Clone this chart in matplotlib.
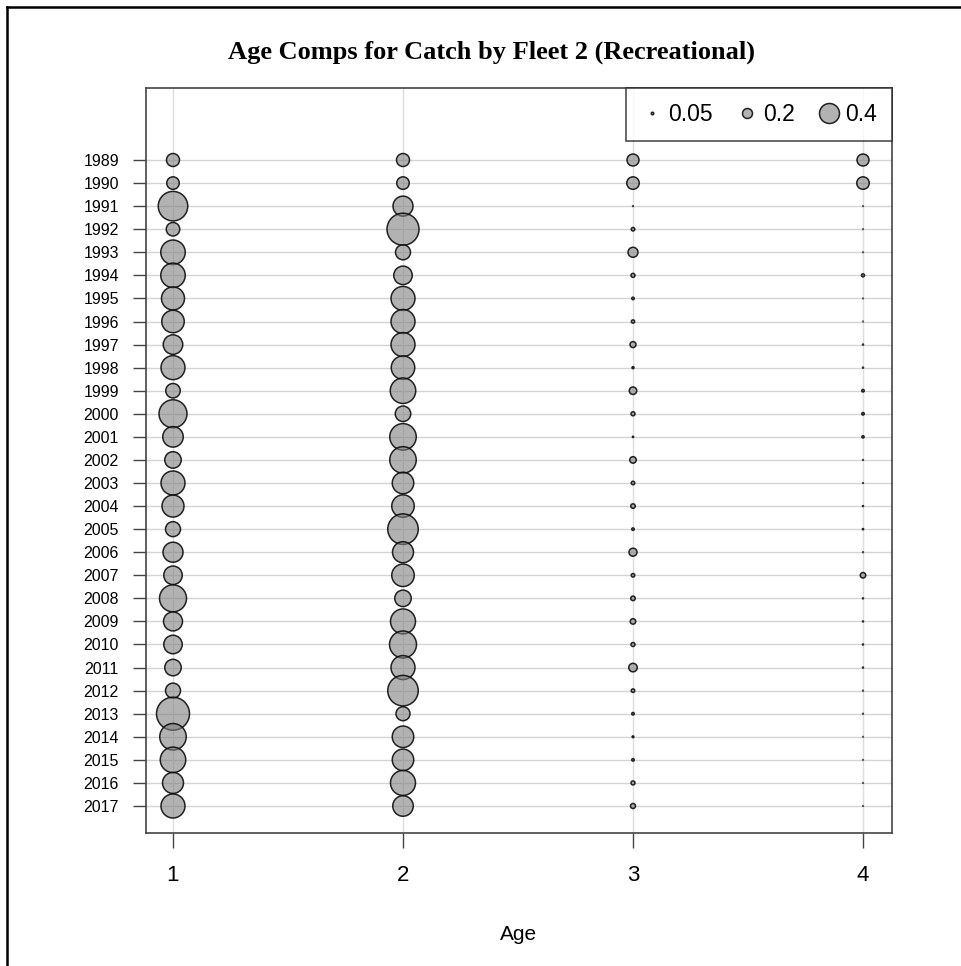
import matplotlib
matplotlib.use("Agg")
import matplotlib.pyplot as plt
from matplotlib.lines import Line2D
import numpy as np

years = list(range(1989, 2018))
ages = [1, 2, 3, 4]

age1 = [0.26, 0.25, 0.59, 0.27, 0.49, 0.49, 0.46, 0.45, 0.39, 0.48,
        0.29, 0.56, 0.41, 0.33, 0.48, 0.44, 0.30, 0.40, 0.37, 0.54,
        0.38, 0.37, 0.33, 0.30, 0.66, 0.53, 0.51, 0.42, 0.48]
age2 = [0.26, 0.25, 0.40, 0.64, 0.30, 0.37, 0.48, 0.48, 0.48, 0.47,
        0.51, 0.31, 0.53, 0.53, 0.43, 0.45, 0.61, 0.42, 0.45, 0.33,
        0.50, 0.54, 0.48, 0.61, 0.28, 0.43, 0.43, 0.50, 0.41]
age3 = [0.24, 0.25, 0.015, 0.07, 0.20, 0.08, 0.05, 0.065, 0.12, 0.04,
        0.15, 0.08, 0.025, 0.13, 0.07, 0.09, 0.05, 0.16, 0.07, 0.09,
        0.11, 0.08, 0.17, 0.07, 0.05, 0.035, 0.05, 0.08, 0.10]
age4 = [0.24, 0.25, 0.012, 0.012, 0.012, 0.06, 0.012, 0.012, 0.02, 0.02,
        0.05, 0.05, 0.045, 0.015, 0.015, 0.02, 0.025, 0.015, 0.11, 0.02,
        0.02, 0.02, 0.02, 0.015, 0.015, 0.012, 0.012, 0.012, 0.012]

legend_vals = [0.05, 0.2, 0.4]
legend_labels = ["0.05", "0.2", "0.4"]

title = "Age Comps for Catch by Fleet 2 (Recreational)"
xlabel = "Age"

DIAM_PT_PER_UNIT = 36.0
face = (0.5, 0.5, 0.5, 0.6)
edge = (0.05, 0.05, 0.05, 0.9)

fig = plt.figure(figsize=(9.61, 9.66), dpi=100)
ax = fig.add_axes([146/961, 1-833/966, (892-146)/961, (833-88)/966])

comps = [age1, age2, age3, age4]
for a, vals in zip(ages, comps):
    v = np.array(vals)
    ax.scatter(np.full(len(years), a), years, s=(DIAM_PT_PER_UNIT*v)**2,
               facecolor=face, edgecolor=edge, linewidths=1.1, zorder=3)

ax.set_xlim(1 - 27/230, 4 + 29/230)
ax.set_ylim(2017 + 27/23.07, 1989 - 72/23.07)

ax.set_yticks(years)
ax.set_yticklabels([str(y) for y in years], fontsize=11.5, family="Liberation Sans")
ax.set_xticks(ages)
ax.set_xticklabels([str(a) for a in ages], fontsize=16, family="Liberation Sans")
ax.tick_params(axis="y", length=9.5, width=1.0, color="#444444", pad=10)
ax.tick_params(axis="x", length=10.8, width=1.0, color="#444444", pad=12)

for y in years:
    ax.axhline(y, color="#d4d4d4", lw=1.0, zorder=1)
for a in ages:
    ax.axvline(a, color="#dedede", lw=1.0, zorder=1)

for sp in ax.spines.values():
    sp.set_color("#444444")
    sp.set_linewidth(1.2)

ax.set_xlabel(xlabel, fontsize=15, family="Liberation Sans", labelpad=28)

handles = [Line2D([], [], ls="none", marker="o", markersize=DIAM_PT_PER_UNIT*v,
                  markerfacecolor=face, markeredgecolor=edge, markeredgewidth=1.1)
           for v in legend_vals]
leg = ax.legend(handles, legend_labels, loc="upper right", ncol=3,
                frameon=True, fancybox=False, borderaxespad=0,
                prop={"family": "Liberation Sans", "size": 16.5},
                handletextpad=0.2, columnspacing=1.0, handlelength=1.0,
                borderpad=0.65)
leg.get_frame().set_edgecolor("#222222")
leg.get_frame().set_linewidth(1.2)

fig.text(491/961, 1-52/966, title, ha="center", va="center",
         fontsize=19, fontweight="bold", family="Liberation Serif")

fig.add_artist(Line2D([7/961, 7/961], [0, 1-7/966], color="black", lw=1.8,
                      transform=fig.transFigure))
fig.add_artist(Line2D([7/961, 1], [1-7/966, 1-7/966], color="black", lw=1.8,
                      transform=fig.transFigure))

fig.savefig("out.png", dpi=100)
